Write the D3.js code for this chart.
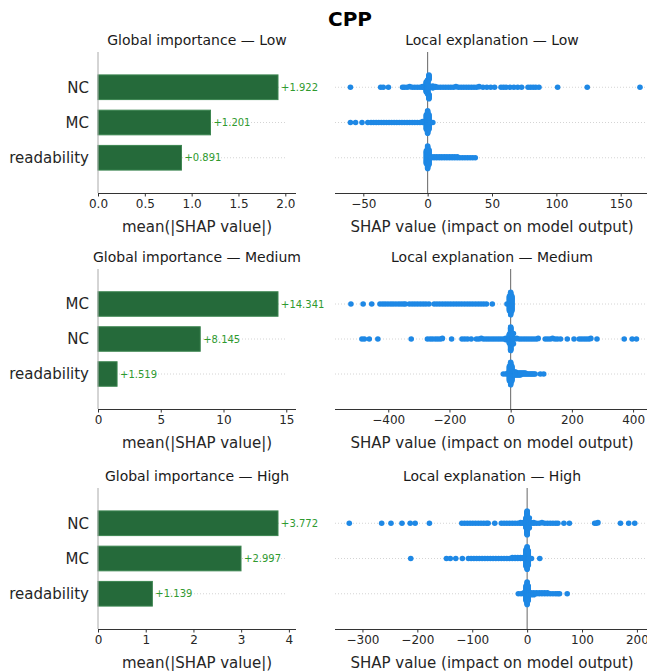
<!DOCTYPE html>
<html>
<head>
<meta charset="utf-8">
<script src="https://cdn.jsdelivr.net/npm/d3@7"></script>
<style>
  body { margin: 0; background: #fff; }
  text { font-family: "DejaVu Sans", sans-serif; }
</style>
</head>
<body>
<svg id="chart" width="647" height="671"></svg>
<script>
// ---- data ----
const levels = ["Low", "Medium", "High"];

const lowFeatures = ["NC", "MC", "readability"];
const lowImportance = [1.922, 1.201, 0.891];
const medFeatures = ["MC", "NC", "readability"];
const medImportance = [14.341, 8.145, 1.519];
const highFeatures = ["NC", "MC", "readability"];
const highImportance = [3.772, 2.997, 1.139];

const lowTicks = [0, 0.5, 1, 1.5, 2];
const medTicks = [0, 5, 10, 15];
const highTicks = [0, 1, 2, 3, 4];

const lowLocalDomain = [-72, 172];
const medLocalDomain = [-574, 452];
const highLocalDomain = [-350, 222];
const lowLocalTicks = [-50, 0, 50, 100, 150];
const medLocalTicks = [-400, -200, 0, 200, 400];
const highLocalTicks = [-300, -200, -100, 0, 100, 200];

// SHAP values per feature row, as [value, how many points]
const lowNC = [[-60,1],[-36.5,1],[-34.5,1],[-30.5,1],[-19.5,1],[-18,1],[-16,1],[-14,1],[-12,1],[-10,1],[-8,1],[-6,1],[-4,2],[-2.5,2],[-1,16],[0,24],[1,16],[2.5,2],[4,2],[6,2],[8,1],[10,1],[12,1],[14,1],[16,1],[18,1],[20,1],[22,1],[24,1],[26,1],[28,1],[30,1],[32,1],[34,1],[36,1],[38,1],[40,1],[43,1],[46,1],[49,1],[52,1],[57,1],[59,1],[61,1],[64,1],[67,1],[70,1],[73,1],[78,1],[80,1],[82,1],[84,1],[86.5,1],[101,1],[124,1],[165,1]];
const lowMC = [[-60,1],[-56,1],[-51,1],[-46.5,1],[-44,1],[-42,1],[-40,1],[-38,1],[-36,1],[-34,1],[-32,1],[-30,1],[-28,1],[-26,1],[-24,1],[-22,1],[-20,1],[-18,1],[-16,1],[-14,1],[-12,1],[-10,1],[-8,1],[-6,1],[-4,2],[-2.5,2],[-1,16],[0,24],[1,16],[2.5,1],[4,1]];
const lowRead = [[-1,14],[0,24],[1,16],[3,2],[5,2],[7,2],[9,2],[11,2],[13,2],[15,2],[17,2],[19,2],[21,2],[23,2],[25,1],[27,1],[29,1],[31,1],[33,1],[35,1],[37,1]];

const medMC = [[-522,1],[-482,1],[-454,1],[-427,1],[-418,1],[-410,1],[-401,1],[-392,1],[-384,1],[-375,1],[-366,1],[-358,1],[-350,1],[-344,1],[-331,1],[-322,1],[-313,1],[-304,1],[-295,1],[-286,1],[-277,1],[-267,1],[-250,1],[-241,1],[-232,1],[-223,1],[-214,1],[-205,1],[-196,1],[-187,1],[-178,1],[-169,1],[-160,1],[-151,1],[-142,1],[-133,1],[-124,1],[-115,1],[-106,1],[-97,1],[-88,1],[-79,1],[-60,1],[-12,1],[-4,16],[0,24],[4,16]];
const medNC = [[-486,1],[-478,1],[-462,1],[-434,1],[-325,1],[-272,1],[-263,1],[-255,1],[-246,1],[-238,1],[-230,1],[-223,1],[-193,1],[-159,1],[-150,1],[-141,1],[-129,1],[-112,1],[-104,1],[-96,1],[-88,1],[-80,1],[-72,1],[-64,1],[-56,1],[-48,1],[-40,1],[-32,1],[-24,1],[-16,2],[-9,2],[-4,16],[0,24],[4,16],[9,2],[14,1],[20,1],[28,1],[36,1],[44,1],[52,1],[60,1],[68,1],[76,1],[84,1],[90,1],[113,1],[121,1],[129,1],[137,1],[145,1],[153,1],[163,1],[185,1],[207,1],[224,1],[232,1],[240,1],[248,1],[256,1],[262,1],[282,1],[371,1],[397,1],[411,1]];
const medRead = [[-24,1],[-16,1],[-9,2],[-4,16],[0,24],[4,16],[8,4],[12,4],[16,4],[20,3],[24,3],[28,3],[32,3],[36,2],[40,2],[44,2],[48,2],[52,1],[56,1],[60,1],[64,1],[68,1],[72,1],[76,1],[80,1],[97,1],[108,1]];

const highNC = [[-324,1],[-265,1],[-248,1],[-228,1],[-213,1],[-204,1],[-178,1],[-119,1],[-114,1],[-109,1],[-104,1],[-99,1],[-94,1],[-89,1],[-84,1],[-79,1],[-74,1],[-71,1],[-59,1],[-47,1],[-42,1],[-37,1],[-32,1],[-27,1],[-22,1],[-17,1],[-12,2],[-7,2],[-4,2],[-2,16],[0,24],[2,16],[4,2],[7,2],[12,2],[17,1],[22,1],[27,1],[32,1],[37,1],[42,1],[47,1],[52,1],[56,1],[67,1],[77,1],[123,1],[126,1],[129,1],[170,1],[185,1],[196,1]];
const highMC = [[-212,1],[-147,1],[-140,1],[-130,1],[-118,1],[-107,1],[-102,1],[-97,1],[-92,1],[-87,1],[-82,1],[-77,1],[-72,1],[-67,1],[-62,1],[-57,1],[-52,1],[-47,1],[-42,1],[-37,1],[-32,1],[-27,2],[-22,2],[-17,2],[-12,2],[-7,2],[-4,2],[-2,16],[0,24],[2,16],[4,1],[8,1],[23,1]];
const highRead = [[-16,1],[-11,1],[-6,2],[-2,16],[0,24],[2,16],[4,3],[7,3],[12,3],[17,2],[22,2],[27,2],[32,2],[37,2],[42,1],[47,1],[52,1],[56,1],[59,1],[73,1]];

// ---- build panels ----
const panels = [
  { features: lowFeatures, importance: lowImportance, ticks: lowTicks, fmt: d3.format(".1f"),
    localDomain: lowLocalDomain, localTicks: lowLocalTicks, rows: [lowNC, lowMC, lowRead] },
  { features: medFeatures, importance: medImportance, ticks: medTicks, fmt: d3.format("d"),
    localDomain: medLocalDomain, localTicks: medLocalTicks, rows: [medMC, medNC, medRead] },
  { features: highFeatures, importance: highImportance, ticks: highTicks, fmt: d3.format("d"),
    localDomain: highLocalDomain, localTicks: highLocalTicks, rows: [highNC, highMC, highRead] }
];

const axTops = [52, 269, 488];
const axBottoms = [193, 409, 629];
const barLeft = 98, barRight = 296;
const locLeft = 335, locRight = 649;

const svg = d3.select("#chart");
svg.append("rect").attr("width", 647).attr("height", 671).attr("fill", "#fff");

svg.append("text")
    .attr("x", 350).attr("y", 26)
    .attr("text-anchor", "middle")
    .style("font-size", "20px").style("font-weight", "bold")
    .attr("fill", "#000")
    .text("CPP");

// shap-style beeswarm offsets for one row
function swarm(pairs) {
  let vals = [];
  pairs.forEach(p => { for (let k = 0; k < p[1]; k++) vals.push(p[0]); });
  vals.sort((a, b) => a - b);
  const lo = d3.min(vals), hi = d3.max(vals);
  const quant = vals.map(v => Math.round(100 * (v - lo) / (hi - lo + 1e-8)));
  let layer = 0, last = -1;
  const ys = vals.map((v, i) => {
    if (quant[i] !== last) { layer = 0; last = quant[i]; }
    const y = Math.ceil(layer / 2) * ((layer % 2) * 2 - 1);
    layer++;
    return y;
  });
  const s = 0.9 * (0.4 / (d3.max(ys) + 1));
  return vals.map((v, i) => ({ v: v, dy: ys[i] * s }));
}

panels.forEach((p, li) => {
  const top = axTops[li], bottom = axBottoms[li];
  const step = (bottom - top) / 4;
  const y = d3.scaleLinear().domain([-1, 3]).range([top, bottom]);

  // ---------- global importance ----------
  const x = d3.scaleLinear().domain([0, d3.max(p.importance) * 1.1]).range([barLeft, barRight]);
  const g = svg.append("g");

  g.selectAll(".grid").data(p.features).enter().append("line")
      .attr("x1", barLeft).attr("x2", barLeft + (barRight - barLeft) * 0.95)
      .attr("y1", (d, i) => y(i)).attr("y2", (d, i) => y(i))
      .attr("stroke", "#d4d4d4").attr("stroke-width", 1)
      .attr("stroke-dasharray", "1,2");

  g.selectAll(".bar").data(p.importance).enter().append("rect")
      .attr("x", x(0))
      .attr("y", (d, i) => y(i) - step * 0.35)
      .attr("width", d => x(d) - x(0))
      .attr("height", step * 0.7)
      .attr("fill", "#256a3a")
      .attr("stroke", "#3c8550").attr("stroke-width", 1);

  g.selectAll(".val").data(p.importance).enter().append("text")
      .attr("x", d => x(d) + 3)
      .attr("y", (d, i) => y(i))
      .attr("dy", "0.35em")
      .style("font-size", "10px")
      .attr("fill", "#2f9a2f")
      .text(d => "+" + d.toFixed(3));

  g.selectAll(".lab").data(p.features).enter().append("text")
      .attr("x", 89).attr("y", (d, i) => y(i))
      .attr("dy", "0.35em").attr("text-anchor", "end")
      .style("font-size", "15px").attr("fill", "#262626")
      .text(d => d);

  g.append("line")
      .attr("x1", barLeft).attr("x2", barLeft)
      .attr("y1", top).attr("y2", bottom)
      .attr("stroke", "#aaa").attr("stroke-width", 1);

  const xa = g.append("g")
      .attr("transform", `translate(0,${bottom})`)
      .call(d3.axisBottom(x).tickValues(p.ticks).tickFormat(p.fmt).tickSize(3.5).tickPadding(3));
  xa.select(".domain").attr("stroke", "#333").attr("d", `M${barLeft},0.5H${barRight}`);
  xa.selectAll(".tick line").attr("stroke", "#333");
  xa.selectAll("text").style("font-size", "12px").attr("fill", "#262626")
      .style("font-family", "DejaVu Sans, sans-serif");

  g.append("text")
      .attr("x", (barLeft + barRight) / 2).attr("y", bottom + 39)
      .attr("text-anchor", "middle")
      .style("font-size", "15px").attr("fill", "#262626")
      .text("mean(|SHAP value|)");

  g.append("text")
      .attr("x", (barLeft + barRight) / 2).attr("y", top - 7)
      .attr("text-anchor", "middle")
      .style("font-size", "14px").attr("fill", "#1a1a1a")
      .text("Global importance \u2014 " + levels[li]);

  // ---------- local explanation ----------
  const xl = d3.scaleLinear().domain(p.localDomain).range([locLeft, locRight]);
  const h = svg.append("g");

  h.selectAll(".grid").data(p.rows).enter().append("line")
      .attr("x1", locLeft).attr("x2", locRight)
      .attr("y1", (d, i) => y(i)).attr("y2", (d, i) => y(i))
      .attr("stroke", "#d4d4d4").attr("stroke-width", 1)
      .attr("stroke-dasharray", "1,2");

  h.append("line")
      .attr("x1", xl(0)).attr("x2", xl(0))
      .attr("y1", top).attr("y2", bottom)
      .attr("stroke", "#666").attr("stroke-width", 1);

  p.rows.forEach((row, ri) => {
    const pts = swarm(row);
    h.append("g").selectAll("circle").data(pts).enter().append("circle")
        .attr("cx", d => xl(d.v))
        .attr("cy", d => y(ri) - d.dy * step)
        .attr("r", 2.8)
        .attr("fill", "#1E88E5");
  });

  const xb = h.append("g")
      .attr("transform", `translate(0,${bottom})`)
      .call(d3.axisBottom(xl).tickValues(p.localTicks).tickSize(3.5).tickPadding(3));
  xb.select(".domain").attr("stroke", "#333").attr("d", `M${locLeft},0.5H${locRight}`);
  xb.selectAll(".tick line").attr("stroke", "#333");
  xb.selectAll("text").style("font-size", "12px").attr("fill", "#262626")
      .style("font-family", "DejaVu Sans, sans-serif");

  h.append("text")
      .attr("x", (locLeft + locRight) / 2).attr("y", bottom + 39)
      .attr("text-anchor", "middle")
      .style("font-size", "15px").attr("fill", "#262626")
      .text("SHAP value (impact on model output)");

  h.append("text")
      .attr("x", (locLeft + locRight) / 2).attr("y", top - 7)
      .attr("text-anchor", "middle")
      .style("font-size", "14px").attr("fill", "#1a1a1a")
      .text("Local explanation \u2014 " + levels[li]);
});
</script>
</body>
</html>
